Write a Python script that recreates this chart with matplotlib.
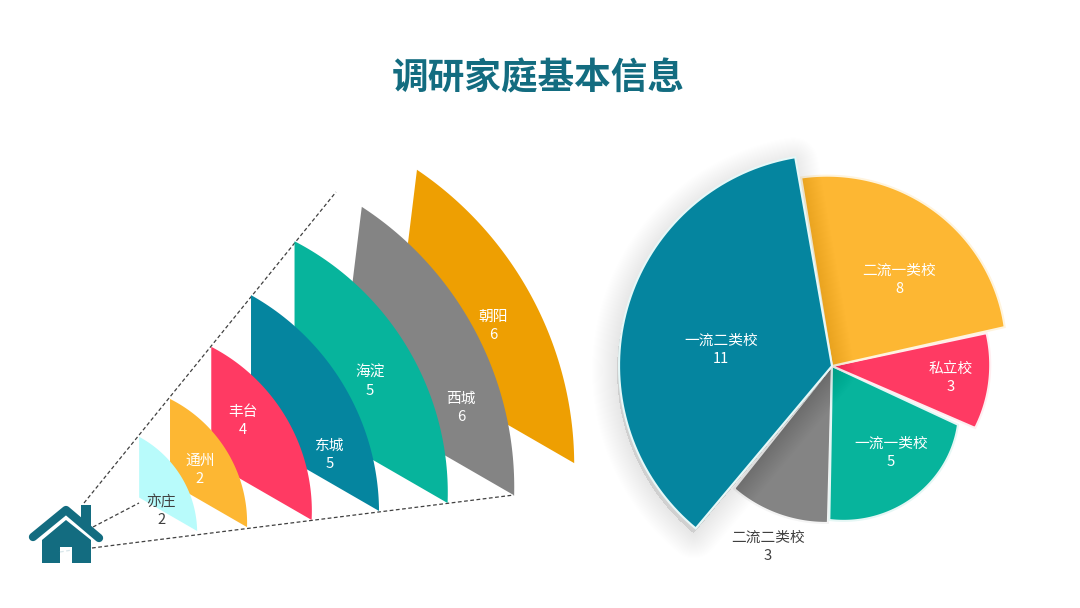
import numpy as np
import matplotlib
matplotlib.use('Agg')
import matplotlib.pyplot as plt
from matplotlib.patches import Polygon, Rectangle

plt.rcParams['font.family'] = ['Noto Sans CJK SC', 'DejaVu Sans']

title = '调研家庭基本信息'

# left fan, from the back leaf to the front leaf
districts = ['朝阳', '西城', '海淀', '东城', '丰台', '通州', '亦庄']
district_counts = [6, 6, 5, 5, 4, 2, 2]
leaf_r_top = [501, 437, 369, 300, 235, 169, 121]
leaf_r_mid = [511, 445, 378, 304, 238, 170, 118]
leaf_r_end = [496, 432, 365, 296, 228, 163, 113]
leaf_angle_top = [48.5, 50.7, 55.4, 56.4, 57.5, 59.8, 63.4]
leaf_angle_end = [9.5, 6.6, 6.6, 6.6, 6.3, 6.3, 7.1]
leaf_tilt = [7, 7, 0, 0, 0, 0, 0]
leaf_colors = ['#EE9F02', '#848484', '#07B49C', '#05859F', '#FF3A63', '#FDB733', '#B8FBFB']
leaf_text_colors = ['white'] * 6 + ['#404040']
leaf_label_pos = [(493, 326), (461, 408), (370, 382), (330, 455), (243, 421), (200, 470), (161, 511)]

# right pie, drawn back to front
schools = ['二流二类校', '一流一类校', '私立校', '二流一类校', '一流二类校']
school_counts = [3, 5, 3, 8, 11]
slice_start = [-91.5, -25, 12, 99.3, 100]
slice_end = [-128.6, -91, -23.4, 12.7, 230]
slice_r_start = [157, 139, 158, 191, 212]
slice_r_mid = [158, 155, 158, 186, 213]
slice_r_end = [157, 154, 156, 177, 212]
slice_colors = ['#848484', '#07B49C', '#FF3A63', '#FDB733', '#05859F']
slice_edges = ['#f4f4f4', '#e6f7f5', '#ffeef1', '#fff4dd', '#e6f8f8']
slice_shadow = [0.0, 0.0, 0.0, 0.2, 1.0]
school_text_colors = ['#404040', 'white', 'white', 'white', 'white']
school_label_pos = [(768, 547), (891, 453), (951, 378), (899, 280), (721, 350)]

home = (85, 545)
pie_center = (832, 366)
dark_teal = '#136C80'


def arc_points(center, a0, a1, r0, rm, r1, n=80):
    # curve through three radii, not always a true circle in the picture
    t = np.linspace(0, 1, n)
    r = r0 * (1 - t) * (1 - 2 * t) + 4 * rm * t * (1 - t) + r1 * t * (2 * t - 1)
    a = np.radians(a0 + (a1 - a0) * t)
    return np.column_stack([center[0] + r * np.cos(a), center[1] - r * np.sin(a)])


def leaf_polygon(r0, rm, r1, a0, a1, tilt):
    arc = arc_points(home, a0, a1, r0, rm, r1)
    tip, end = arc[0], arc[-1]
    left_dir = np.array([-np.sin(np.radians(tilt)), np.cos(np.radians(tilt))])
    low_dir = np.array([-np.cos(np.radians(30)), -np.sin(np.radians(30))])
    s = np.linalg.solve(np.column_stack([left_dir, -low_dir]), end - tip)
    return np.vstack([arc, tip + s[0] * left_dir])


def two_line_label(ax, pos, name, count, color, z):
    ax.text(pos[0], pos[1] - 9, name, color=color, fontsize=10.6, ha='center', va='center', zorder=z)
    ax.text(pos[0], pos[1] + 9, str(count), color=color, fontsize=10.6, ha='center', va='center', zorder=z)


fig = plt.figure(figsize=(10.8, 6.08), dpi=100)
ax = fig.add_axes([0, 0, 1, 1])
ax.set_xlim(0, 1080)
ax.set_ylim(608, 0)
ax.axis('off')

ax.text(538, 79, title, color=dark_teal, fontsize=26.4, fontweight='bold', ha='center', va='center')

# guide lines
dash = dict(color='#404040', lw=0.9, linestyle=(0, (3, 2)), zorder=1)
ax.plot([84, 336], [503, 192], **dash)
ax.plot([93, 139], [527, 503], **dash)
ax.plot([92, 514], [548, 495], **dash)

# fan
for i in range(len(districts)):
    pts = leaf_polygon(leaf_r_top[i], leaf_r_mid[i], leaf_r_end[i],
                       leaf_angle_top[i], leaf_angle_end[i], leaf_tilt[i])
    ax.add_patch(Polygon(pts, closed=True, facecolor=leaf_colors[i], edgecolor='none', zorder=2 + i))
    two_line_label(ax, leaf_label_pos[i], districts[i], district_counts[i], leaf_text_colors[i], 20)

# house icon
ax.plot([33, 66, 99], [537, 510, 538], color=dark_teal, lw=6, solid_capstyle='round',
        solid_joinstyle='round', zorder=10)
ax.add_patch(Rectangle((81, 505), 10, 22, facecolor=dark_teal, edgecolor='none', zorder=10))
ax.add_patch(Polygon([(42, 540), (66, 520), (91, 540), (91, 563), (72, 563), (72, 547),
                      (60, 547), (60, 563), (42, 563)], closed=True,
                     facecolor=dark_teal, edgecolor='none', zorder=10))
ax.plot([60, 72], [552, 550], color='#d8e6ea', lw=0.9, linestyle=(0, (3, 2)), zorder=11)

# pie, shadow first then the slice
for i in range(len(schools)):
    arc = arc_points(pie_center, slice_start[i], slice_end[i],
                     slice_r_start[i], slice_r_mid[i], slice_r_end[i])
    pts = np.vstack([arc, pie_center])
    z = 30 + i * 2
    if slice_shadow[i] > 0:
        # stacked strokes with growing width fake the blur
        for w in range(1, 25):
            shadow = Polygon(pts + np.array([-2, 5]), closed=True,
                             facecolor=(0, 0, 0, 0.002 * slice_shadow[i]),
                             edgecolor=(0, 0, 0, 0.0055 * slice_shadow[i]),
                             lw=w * 1.5, joinstyle='round', zorder=z)
            ax.add_patch(shadow)
    ax.add_patch(Polygon(pts, closed=True, facecolor=slice_colors[i], edgecolor=slice_edges[i],
                         lw=1.5, joinstyle='miter', zorder=z + 1))
    two_line_label(ax, school_label_pos[i], schools[i], school_counts[i], school_text_colors[i], 50)

fig.savefig('out.png', dpi=100, facecolor='white')
